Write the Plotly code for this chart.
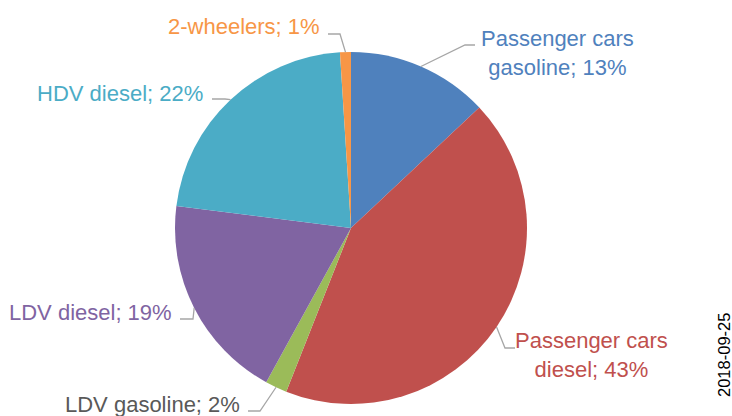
import math
import plotly.graph_objects as go

labels = ["Passenger cars<br>gasoline", "Passenger cars<br>diesel", "LDV gasoline",
          "LDV diesel", "HDV diesel", "2-wheelers"]
values = [13, 43, 2, 19, 22, 1]
colors = ["#4F81BD", "#C0504D", "#9BBB59", "#8064A2", "#4BACC6", "#F79646"]
text_colors = ["#4F81BD", "#C0504D", "#595959", "#8064A2", "#4BACC6", "#F79646"]
date_label = "2018-09-25"

W, H = 732, 416
CX, CY, R = 351, 228, 176
FONT = "Liberation Sans, Arial, sans-serif"

# label layout (pixels): text anchor x, y, xanchor ; leader: (horizontal end x, elbow x, y)
label_pos = [
    (557, 53, "center", (475, 465, 45)),
    (591, 355, "center", (515, 505, 348)),
    (242, 404, "right", (248, 260, 411)),
    (174, 312, "right", (180, 193, 319)),
    (205, 93, "right", (212, 225, 99)),
    (322, 26, "right", (328, 340, 34)),
]

def px(x):
    return x / W

def py(y):
    return 1 - y / H

fig = go.Figure(go.Pie(
    labels=labels, values=values, sort=False, direction="clockwise", rotation=0,
    marker=dict(colors=colors, line=dict(width=0)),
    textinfo="none", hoverinfo="label+percent", showlegend=False,
    domain=dict(x=[px(CX - R), px(CX + R)], y=[py(CY + R), py(CY - R)]),
))

total = sum(values)
cum = 0
annotations = []
shapes = []
for lab, v, tc, pos in zip(labels, values, text_colors, label_pos):
    mid = (cum + v / 2) / total * 2 * math.pi
    cum += v
    ex = CX + R * math.sin(mid)
    ey = CY - R * math.cos(mid)
    tx, ty, anchor, (hx0, hx1, hy) = pos
    pct = round(v / total * 100)
    if "<br>" in lab:
        a, b = lab.split("<br>")
        text = f"{a}<br>{b}; {pct}%"
    else:
        text = f"{lab}; {pct}%"
    annotations.append(dict(
        x=px(tx), y=py(ty), xref="paper", yref="paper", text=text, showarrow=False,
        xanchor=anchor, yanchor="middle", align="center",
        font=dict(family=FONT, size=22, color=tc),
    ))
    path = f"M {px(hx0)} {py(hy)} L {px(hx1)} {py(hy)} L {px(ex)} {py(ey)}"
    shapes.append(dict(type="path", xref="paper", yref="paper", path=path,
                       line=dict(color="#A6A6A6", width=1.3)))

annotations.append(dict(
    x=px(724), y=py(355), xref="paper", yref="paper", text=date_label, showarrow=False,
    textangle=-90, xanchor="center", yanchor="middle",
    font=dict(family=FONT, size=16.5, color="#000000"),
))

fig.update_layout(
    width=W, height=H, margin=dict(l=0, r=0, t=0, b=0),
    paper_bgcolor="white", plot_bgcolor="white",
    annotations=annotations, shapes=shapes,
)
fig.write_html("out.html", config={"displayModeBar": False},
               post_script="document.body.style.margin='0';")
